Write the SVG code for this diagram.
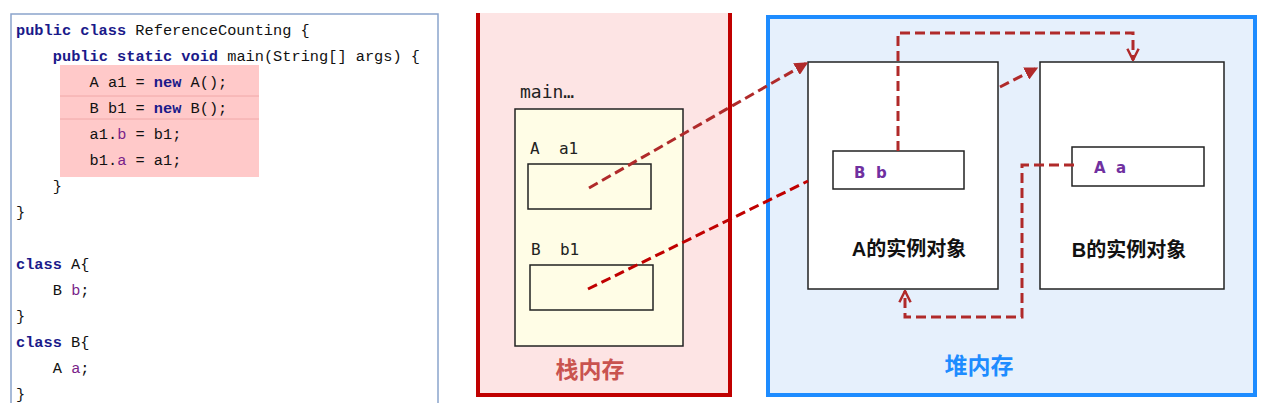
<svg xmlns="http://www.w3.org/2000/svg" width="1264" height="403" viewBox="0 0 1264 403">
<style>
.code{font-family:"Liberation Mono","DejaVu Sans Mono",monospace;font-size:15.3px;fill:#111;}
.kw{fill:#1a1a8a;font-weight:bold;}
.fld{fill:#7a1f8a;}
.mono{font-family:"DejaVu Sans Mono","Liberation Mono",monospace;font-size:16px;fill:#222;white-space:pre;}
.fieldlbl{font-family:"DejaVu Sans","Noto Sans",sans-serif;font-size:15px;font-weight:bold;fill:#7030a0;white-space:pre;}
.obj{font-family:"Liberation Sans","Noto Sans CJK SC",sans-serif;font-size:20px;font-weight:bold;fill:#111;}
.box{stroke:#222;stroke-width:1.5;}
.conn{fill:none;stroke:#b02a2a;stroke-width:3;stroke-dasharray:10 5;}
</style>
<defs>
<marker id="tri" viewBox="0 0 10 10" refX="9" refY="5" markerWidth="4.5" markerHeight="4.5" orient="auto" markerUnits="strokeWidth">
<path d="M0,0 L10,5 L0,10 z" fill="#b02a2a"/>
</marker>
<marker id="chev" viewBox="0 0 12 12" refX="11" refY="6" markerWidth="4.5" markerHeight="4.5" orient="auto" markerUnits="strokeWidth">
<path d="M1,1 L11,6 L1,11" fill="none" stroke="#b02a2a" stroke-width="2.2"/>
</marker>
</defs>
<rect width="1264" height="403" fill="#ffffff"/>

<g id="code-panel">
<rect x="11" y="14" width="427" height="400" fill="#ffffff" stroke="#8aa4cc" stroke-width="1.5"/>
<rect x="60" y="65" width="199" height="112" fill="#ffc9c9"/>
<line x1="60" y1="96" x2="259" y2="96" stroke="#f0a8a8" stroke-width="1"/>
<line x1="60" y1="119" x2="259" y2="119" stroke="#f0a8a8" stroke-width="1"/>
<text class="code" x="16" y="35"><tspan class="kw">public</tspan> <tspan class="kw">class</tspan> ReferenceCounting {</text>
<text class="code" x="52.8" y="61"><tspan class="kw">public</tspan> <tspan class="kw">static</tspan> <tspan class="kw">void</tspan> main(String[] args) {</text>
<text class="code" x="89.6" y="87">A a1 = <tspan class="kw">new</tspan> A();</text>
<text class="code" x="89.6" y="113">B b1 = <tspan class="kw">new</tspan> B();</text>
<text class="code" x="89.6" y="139">a1.<tspan class="fld">b</tspan> = b1;</text>
<text class="code" x="89.6" y="165">b1.<tspan class="fld">a</tspan> = a1;</text>
<text class="code" x="52.8" y="191">}</text>
<text class="code" x="16" y="217">}</text>
<text class="code" x="16" y="269"><tspan class="kw">class</tspan> A{</text>
<text class="code" x="52.8" y="295">B <tspan class="fld">b</tspan>;</text>
<text class="code" x="16" y="321">}</text>
<text class="code" x="16" y="347"><tspan class="kw">class</tspan> B{</text>
<text class="code" x="52.8" y="373">A <tspan class="fld">a</tspan>;</text>
<text class="code" x="16" y="399">}</text>
</g>

<g id="stack">
<rect x="478" y="13" width="252" height="382" fill="#fde4e4"/>
<path d="M478,13 V395 H730 V13" fill="none" stroke="#c00000" stroke-width="4"/>
<text x="590" y="378" text-anchor="middle" font-family="Noto Sans CJK SC,sans-serif" font-size="23" font-weight="bold" fill="#c9534f">栈内存</text>
</g>

<g id="main-frame">
<text class="mono" x="520" y="98" style="font-size:18px">main…</text>
<rect x="515" y="109" width="168" height="237" fill="#fffde6" class="box"/>
</g>

<g id="var-a1">
<text class="mono" x="530" y="154">A  a1</text>
<rect x="528" y="164" width="123" height="45" fill="#fffde6" class="box"/>
</g>

<g id="var-b1">
<text class="mono" x="531" y="255">B  b1</text>
<rect x="530" y="265" width="123" height="45" fill="#fffde6" class="box"/>
</g>

<g id="heap">
<rect x="768" y="17" width="487" height="378" fill="#e6f0fc" stroke="#1e8cff" stroke-width="4"/>
<text x="979" y="374" text-anchor="middle" font-family="Noto Sans CJK SC,sans-serif" font-size="23" font-weight="bold" fill="#1e8cff">堆内存</text>
</g>

<g id="obj-a">
<rect x="808" y="62" width="190" height="227" fill="#ffffff" class="box"/>
<rect x="833" y="151" width="131" height="38" fill="#ffffff" class="box"/>
<text class="fieldlbl" x="854" y="178">B  b</text>
<text class="obj" x="909" y="256" text-anchor="middle">A的实例对象</text>
</g>

<g id="obj-b">
<rect x="1040" y="62" width="184" height="227" fill="#ffffff" class="box"/>
<rect x="1072" y="147" width="132" height="39" fill="#ffffff" class="box"/>
<text class="fieldlbl" x="1094" y="173">A  a</text>
<text class="obj" x="1129" y="257" text-anchor="middle">B的实例对象</text>
</g>

<g id="connectors">
<line class="conn" x1="589" y1="188" x2="807" y2="63" marker-end="url(#tri)"/>
<line class="conn" x1="588" y1="289" x2="808" y2="181" style="stroke:#c00000"/>
<line class="conn" x1="1000" y1="87" x2="1037" y2="68" marker-end="url(#tri)"/>
<polyline class="conn" points="898,151 898,33 1133,33 1133,60" marker-end="url(#chev)"/>
<polyline class="conn" points="1074,165 1022,165 1022,317 905,317 905,291" marker-end="url(#chev)"/>
</g>
</svg>
